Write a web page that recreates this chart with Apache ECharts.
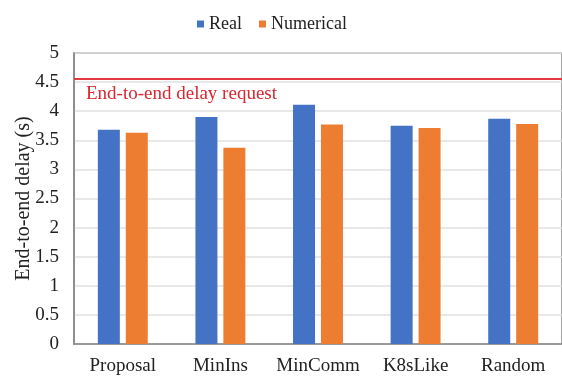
<!DOCTYPE html>
<html><head><meta charset="utf-8">
<script src="https://cdn.jsdelivr.net/npm/echarts@6/dist/echarts.min.js"></script>
<style>html,body{margin:0;padding:0;background:#fff}#c{width:562px;height:377px}</style>
</head><body><div id="c"></div>
<script>
var categories = ['Proposal', 'MinIns', 'MinComm', 'K8sLike', 'Random'];
var realValues = [3.68, 3.90, 4.11, 3.75, 3.87];
var numericalValues = [3.63, 3.37, 3.77, 3.71, 3.78];
var delayRequest = 4.55;
var seriesNames = ['Real', 'Numerical'];
var FONT = '"Liberation Serif", "Times New Roman", serif';

var chart = echarts.init(document.getElementById('c'), null, {renderer: 'canvas'});
chart.setOption({
  animation: false,
  textStyle: {fontFamily: FONT},
  legend: {
    data: seriesNames, top: 10, left: 192, itemWidth: 7, itemHeight: 7, itemGap: 17,
    icon: 'rect',
    textStyle: {fontFamily: FONT, fontSize: 18, color: '#222'}
  },
  grid: {left: 74, right: 0, top: 53, bottom: 33, show: true, borderColor: '#888', borderWidth: 1.5,
    containLabel: false, outerBoundsMode: 'none'},
  xAxis: {
    type: 'category', data: categories,
    axisLine: {lineStyle: {color: '#888', width: 1.5}},
    axisTick: {show: false},
    axisLabel: {fontFamily: FONT, fontSize: 19, color: '#222', margin: 13, interval: 0, hideOverlap: false}
  },
  yAxis: {
    type: 'value', min: 0, max: 5, interval: 0.5,
    name: 'End-to-end delay (s)', nameLocation: 'middle', nameGap: 40, nameMoveOverlap: false,
    nameTextStyle: {fontFamily: FONT, fontSize: 20, color: '#222'},
    axisLine: {show: true, lineStyle: {color: '#888', width: 1.5}},
    axisLabel: {fontFamily: FONT, fontSize: 19, color: '#222', margin: 15},
    splitLine: {lineStyle: {color: '#e0e0e0', width: 1.5}}
  },
  series: [
    {
      name: 'Real', type: 'bar', data: realValues, barWidth: 22, barGap: '27%',
      itemStyle: {color: '#4472C4'},
      markLine: {
        silent: true, symbol: 'none',
        lineStyle: {color: '#E0393E', width: 2, type: 'solid'},
        label: {show: true, position: 'insideStartBottom', formatter: 'End-to-end delay request',
          fontFamily: FONT, fontSize: 19, color: '#D9262F', distance: [12, 5]},
        data: [{yAxis: delayRequest}]
      }
    },
    {name: 'Numerical', type: 'bar', data: numericalValues, barWidth: 22, itemStyle: {color: '#ED7D31'}}
  ]
});
</script></body></html>
